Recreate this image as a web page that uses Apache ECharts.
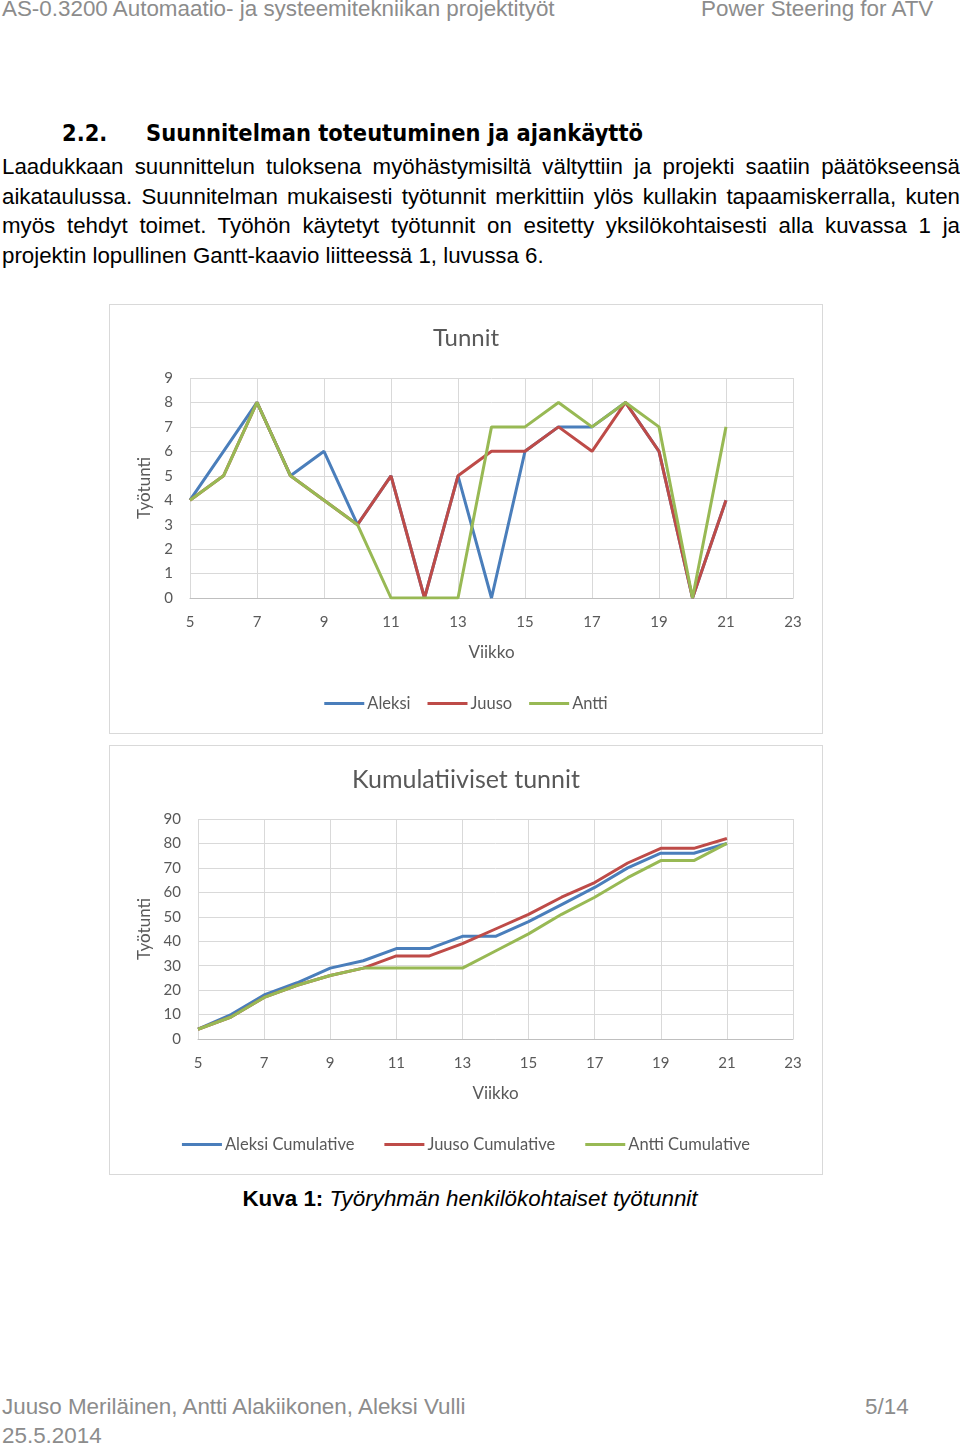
<!DOCTYPE html>
<html>
<head>
<meta charset="utf-8">
<script src="https://cdn.jsdelivr.net/npm/echarts@6/dist/echarts.min.js"></script>
<style>
  html, body { margin: 0; padding: 0; background: #fff; }
  body { width: 960px; height: 1448px; position: relative; overflow: hidden; font-family: "Liberation Sans", Arial, sans-serif; }
  .abs { position: absolute; white-space: nowrap; }
  .hdr { color: #8c8c8c; font-size: 22.4px; }
  .h2 { font-family: "DejaVu Sans Condensed", "DejaVu Sans", sans-serif; font-weight: bold; font-size: 23.4px; color: #000; }
  .para { position: absolute; left: 2px; top: 152px; width: 958px; font-size: 22.3px; line-height: 29.7px; text-align: justify; color: #000; }
  .box { position: absolute; left: 109px; width: 714px; height: 430px; box-sizing: border-box; border: 1px solid #d9d9d9; }
</style>
</head>
<body>
<div class="abs hdr" style="left:2px; top:-4px;">AS-0.3200 Automaatio- ja systeemitekniikan projektityöt</div>
<div class="abs hdr" style="left:701px; top:-4px;">Power Steering for ATV</div>

<div class="abs h2" style="left:62px; top:119px;">2.2.</div>
<div class="abs h2" style="left:146px; top:119px;">Suunnitelman toteutuminen ja ajankäyttö</div>

<div class="para">Laadukkaan suunnittelun tuloksena myöhästymisiltä vältyttiin ja projekti saatiin päätökseensä aikataulussa. Suunnitelman mukaisesti työtunnit merkittiin ylös kullakin tapaamiskerralla, kuten myös tehdyt toimet. Työhön käytetyt työtunnit on esitetty yksilökohtaisesti alla kuvassa 1 ja projektin lopullinen Gantt-kaavio liitteessä 1, luvussa 6.</div>

<div id="c1" class="box" style="top:304px;"></div>
<div id="c2" class="box" style="top:745px;"></div>

<div class="abs" style="left:0; width:940px; top:1186px; text-align:center; font-size:22.4px; color:#000;"><b>Kuva 1:</b> <i>Työryhmän henkilökohtaiset työtunnit</i></div>

<div class="abs hdr" style="left:2px; top:1394px;">Juuso Meriläinen, Antti Alakiikonen, Aleksi Vulli</div>
<div class="abs hdr" style="left:865px; top:1394px;">5/14</div>
<div class="abs hdr" style="left:2px; top:1423px;">25.5.2014</div>

<script>
// Weeks (x values)
const weeks = [5, 6, 7, 8, 9, 10, 11, 12, 13, 14, 15, 16, 17, 18, 19, 20, 21];

// Weekly hours ("Tunnit")
const aleksi = [4, 6, 8, 5, 6, 3, 5, 0, 5, 0, 6, 7, 7, 8, 6, 0, 4];
const juuso  = [4, 5, 8, 5, 4, 3, 5, 0, 5, 6, 6, 7, 6, 8, 6, 0, 4];
const antti  = [4, 5, 8, 5, 4, 3, 0, 0, 0, 7, 7, 8, 7, 8, 7, 0, 7];

// Cumulative hours ("Kumulatiiviset tunnit")
const aleksiCum = [4, 10, 18, 23, 29, 32, 37, 37, 42, 42, 48, 55, 62, 70, 76, 76, 80];
const juusoCum  = [4, 9, 17, 22, 26, 29, 34, 34, 39, 45, 51, 58, 64, 72, 78, 78, 82];
const anttiCum  = [4, 9, 17, 22, 26, 29, 29, 29, 29, 36, 43, 51, 58, 66, 73, 73, 80];

const names1 = ['Aleksi', 'Juuso', 'Antti'];
const names2 = ['Aleksi Cumulative', 'Juuso Cumulative', 'Antti Cumulative'];
const colors = ['#4a7ebb', '#be4b48', '#98b954'];

const FONT = 'Lato, "Open Sans", sans-serif';
const TXT = '#595959';

function pairs(ys) { return weeks.map((w, i) => [w, ys[i]]); }

function makeOption(title, names, data, yMax, yInt, gridLeft, yNameGap, legendGap, titleSize) {
  return {
    animation: false,
    color: colors,
    title: {
      text: title, left: 'center', top: 16,
      textStyle: { fontFamily: FONT, fontSize: titleSize, fontWeight: 'normal', color: TXT }
    },
    legend: {
      data: names, top: 385, left: 'center', icon: 'rect', itemWidth: 40, itemHeight: 3,
      itemGap: legendGap,
      textStyle: { fontFamily: FONT, fontSize: 16.5, color: TXT, padding: [0, 0, 0, -2] }
    },
    grid: { left: gridLeft, right: 29, top: 73, bottom: 135, containLabel: false },
    xAxis: {
      type: 'value', min: 5, max: 23, interval: 2,
      name: 'Viikko', nameLocation: 'middle', nameGap: 46,
      nameTextStyle: { fontFamily: FONT, fontSize: 17, color: TXT },
      axisLine: { show: true, lineStyle: { color: '#bfbfbf', width: 1 } },
      axisTick: { show: false },
      axisLabel: { margin: 17, fontFamily: FONT, fontSize: 15, color: TXT },
      splitLine: { show: true, lineStyle: { color: '#d9d9d9', width: 1 } }
    },
    yAxis: {
      type: 'value', min: 0, max: yMax, interval: yInt,
      name: 'Työtunti', nameLocation: 'middle', nameRotate: 90, nameGap: yNameGap,
      nameTextStyle: { fontFamily: FONT, fontSize: 17, color: TXT },
      axisLine: { show: false },
      axisTick: { show: false },
      axisLabel: { margin: 17, fontFamily: FONT, fontSize: 15, color: TXT },
      splitLine: { show: true, lineStyle: { color: '#d9d9d9', width: 1 } }
    },
    series: names.map((n, i) => ({
      name: n, type: 'line', data: pairs(data[i]),
      showSymbol: false, symbol: 'none',
      lineStyle: { width: 3, color: colors[i] },
      itemStyle: { color: colors[i] }
    }))
  };
}

const c1 = echarts.init(document.getElementById('c1'), null, { renderer: 'canvas' });
c1.setOption(makeOption('Tunnit', names1, [aleksi, juuso, antti], 9, 1, 80, 33, 17, 24));

const c2 = echarts.init(document.getElementById('c2'), null, { renderer: 'canvas' });
c2.setOption(makeOption('Kumulatiiviset tunnit', names2, [aleksiCum, juusoCum, anttiCum], 90, 10, 88, 41, 30, 25));
</script>
</body>
</html>
